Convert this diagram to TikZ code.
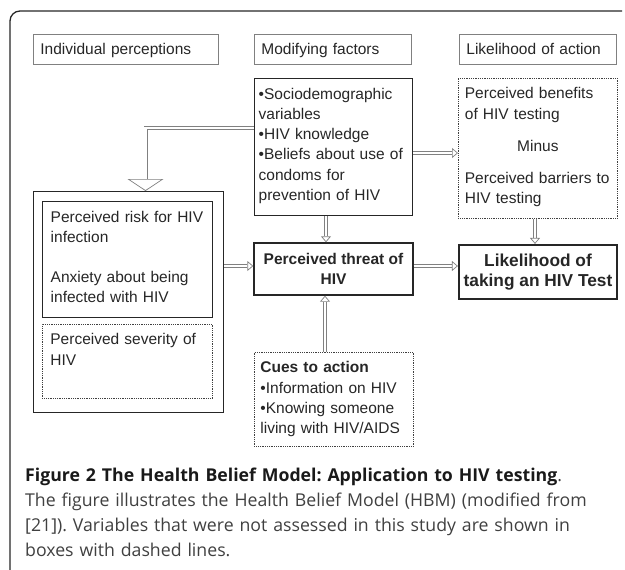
\documentclass[tikz,border=0pt]{standalone}
\usepackage{fontspec}
\setmainfont{Liberation Sans}
\newfontfamily\capfont{Open Sans}
\usetikzlibrary{arrows.meta}

\begin{document}
\begin{tikzpicture}[x=1pt, y=-1pt]
    \tikzstyle{every node}=[inner sep=0pt, text=black!85, font=\fontsize{15.5}{20.2}\selectfont]
    \tikzstyle{head}=[draw=gray, line width=0.8pt, anchor=north west, minimum height=30pt, align=left, text height=11pt, text depth=0pt, inner xsep=7pt]
    \tikzstyle{box}=[draw=black!85, line width=1.4pt, anchor=north west, align=left, inner xsep=4pt, inner ysep=4pt, text height=16.5pt]
    \tikzstyle{dotbox}=[box, draw=black!75, line width=0.8pt, dash pattern=on 0.9pt off 0.9pt]
    \tikzstyle{tbox}=[draw=black!85, line width=1.4pt, align=center, font=\bfseries\fontsize{15.5}{20}\selectfont]
    \tikzstyle{hollow}=[draw=gray, line width=0.7pt, double=white, double distance=2.6pt, -{Triangle[length=6pt, width=10pt, fill=white, line width=0.7pt]}]

    \useasboundingbox (0,0) rectangle (625,570);
    \draw[black!85, line width=1.3pt, rounded corners=10pt] (10,570) -- (10,11) -- (622,11);

    \node[head, text width=171pt] (hi) at (33,34) {Individual perceptions};
    \node[head, text width=143pt] (hm) at (254,34) {Modifying factors};
    \node[head, text width=143pt] (hl) at (459,34) {Likelihood of action};

    \node[box, text width=150pt, text depth=112.5pt] (mod) at (254,78) {•Sociodemographic\\variables\\•HIV knowledge\\•Beliefs about use of\\condoms for\\prevention of HIV};
    \node[dotbox, inner xsep=6.5pt, text width=146pt, text depth=115.5pt] (ben) at (458,78) {Perceived benefits\\of HIV testing\\[12pt]\makebox[146pt]{Minus}\\[12pt]Perceived barriers to\\HIV testing};

    \node[box, minimum width=190pt, minimum height=221pt] (ind) at (33,191) {};
    \node[box, inner xsep=8pt, text width=154pt, text depth=91.5pt] (risk) at (42,201) {Perceived risk for HIV\\infection\\[20pt]Anxiety about being\\infected with HIV};
    \node[dotbox, inner xsep=8pt, text width=154pt, text depth=49.5pt] (sev) at (42,324) {Perceived severity of\\HIV};

    \node[tbox, minimum width=159pt, minimum height=52pt] (thr) at (333.5,269) {Perceived threat of\\HIV};
    \node[tbox, line width=2.2pt, minimum width=158pt, minimum height=54pt, font=\bfseries\fontsize{17.3}{19.5}\selectfont] (like) at (538,272) {Likelihood of\\taking an HIV Test};
    \node[dotbox, inner xsep=6pt, text width=147pt, text depth=69.5pt] (cue) at (254,352) {\textbf{Cues to action}\\•Information on HIV\\•Knowing someone\\living with HIV/AIDS};

    \draw[hollow] (mod.east |- 0,153) -- (ben.west |- 0,153);
    \draw[hollow, -{Triangle[length=12pt, width=36pt, fill=white, line width=0.7pt]}] (mod.west |- 0,128) -| (ind.north -| 145.5,0);
    \draw[hollow] (ind.east |- 0,266) -- (thr.west |- 0,266);
    \draw[hollow] (thr.east |- 0,266) -- (like.west |- 0,266);
    \draw[hollow] (mod.south -| 326,0) -- (thr.north -| 326,0);
    \draw[hollow] (ben.south -| 535,0) -- (like.north -| 535,0);
    \draw[hollow] (cue.north -| 325,0) -- (thr.south -| 325,0);

    \node[anchor=base west, text width=598pt, align=left, text=black!75, font=\capfont\fontsize{17.7}{25.3}\selectfont\frenchspacing] (cap) at (25,481) {{\color{black!90}\textbf{Figure 2 The Health Belief Model: Application to HIV testing}}.\\The figure illustrates the Health Belief Model (HBM) (modified from\\{[21]}). Variables that were not assessed in this study are shown in\\boxes with dashed lines.};
\end{tikzpicture}
\end{document}
